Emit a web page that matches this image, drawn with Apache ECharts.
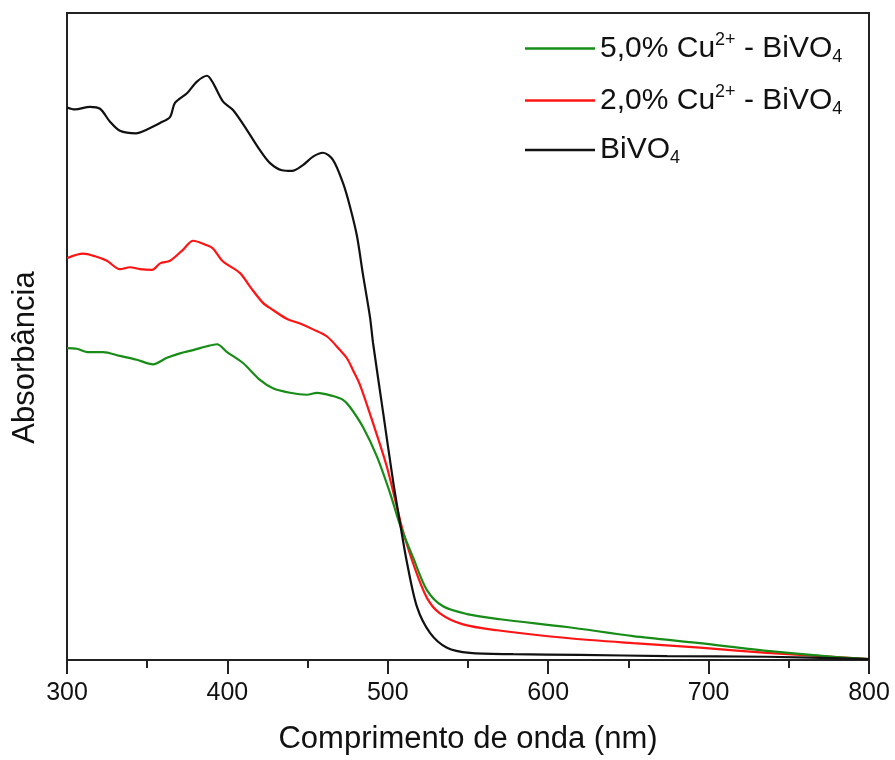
<!DOCTYPE html>
<html>
<head>
<meta charset="utf-8">
<script src="https://cdn.jsdelivr.net/npm/echarts@6/dist/echarts.min.js"></script>
<style>html,body{margin:0;padding:0;background:#fff;}#c{width:895px;height:760px;}</style>
</head>
<body>
<div id="c"></div>
<script>
// x axis ticks
const xTicks = [300, 400, 500, 600, 700, 800];

// BiVO4 (black)
const bivo4Wl  = [300,305,314.3,320.6,326.8,333,343,349.9,358,364.2,367.3,374.8,381,387.3,391,397.3,403.5,412.2,420.3,426.6,434,440.3,447.1,453.4,459.6,465.8,472.1,476.4,480.8,484.5,488.9,490.8,497,503.2,507.6,512,518.2,526.3,536.9,551.2,578.1,619.8,674.1,736.4,800];
const bivo4Abs = [0.854,0.851,0.855,0.852,0.832,0.818,0.814,0.820,0.830,0.839,0.861,0.876,0.894,0.903,0.892,0.863,0.850,0.819,0.788,0.768,0.757,0.756,0.765,0.778,0.784,0.773,0.737,0.701,0.655,0.596,0.530,0.490,0.384,0.278,0.212,0.150,0.082,0.042,0.019,0.011,0.009,0.008,0.006,0.005,0.0015];

// 2,0% Cu2+ - BiVO4 (red)
const cu2Wl  = [300,310,317.5,324.9,333,339.3,345.5,353,358,364.2,372.3,378.6,387.3,391,397.3,407.9,414.1,422.2,428.4,437.2,445.3,453.4,462.1,470.2,474.6,478.3,482.7,490.8,499.5,505.7,508.9,515.7,524.4,532.5,546.9,568.1,611.7,652.9,694.6,736.4,777.6,800];
const cu2Abs = [0.621,0.628,0.624,0.617,0.604,0.607,0.604,0.603,0.613,0.617,0.634,0.648,0.641,0.636,0.616,0.598,0.577,0.552,0.541,0.527,0.520,0.511,0.500,0.479,0.466,0.448,0.425,0.366,0.298,0.236,0.204,0.150,0.096,0.072,0.055,0.046,0.034,0.026,0.019,0.011,0.005,0.0015];

// 5,0% Cu2+ - BiVO4 (green)
const cu5Wl  = [300,306.2,312.5,322.4,333,343.6,353.6,362.3,370.4,378.6,387.3,393.5,399.8,409.7,420.3,428.4,439,449.6,455.9,465.8,472.1,476.4,484.5,493.3,501.4,507.6,515.7,524.4,534.4,549.4,570,611.7,652.9,694.6,736.4,777.6,800];
const cu5Abs = [0.482,0.481,0.476,0.476,0.470,0.464,0.457,0.467,0.474,0.479,0.485,0.488,0.476,0.459,0.433,0.420,0.413,0.410,0.413,0.408,0.402,0.391,0.360,0.314,0.258,0.209,0.159,0.108,0.083,0.071,0.063,0.051,0.037,0.026,0.014,0.005,0.0015];

const seriesNames = ['5,0% Cu2+ - BiVO4', '2,0% Cu2+ - BiVO4', 'BiVO4'];
const legendLabels = {
  '5,0% Cu2+ - BiVO4': '5,0% Cu{sup|2+} - BiVO{sub|4}',
  '2,0% Cu2+ - BiVO4': '2,0% Cu{sup|2+} - BiVO{sub|4}',
  'BiVO4': 'BiVO{sub|4}'
};

function pairs(xs, ys) { return xs.map((x, i) => [x, ys[i]]); }

const FONT = '"Liberation Sans", Arial, Helvetica, sans-serif';
const chart = echarts.init(document.getElementById('c'), null, {renderer: 'canvas'});
chart.setOption({
  animation: false,
  backgroundColor: '#fff',
  textStyle: {fontFamily: FONT, color: '#111'},
  grid: {left: 67, right: 26, top: 13, bottom: 100, show: true, borderColor: '#222', borderWidth: 2, backgroundColor: 'transparent'},
  legend: {
    orient: 'vertical',
    left: 520, top: 26,
    icon: 'rect',
    itemWidth: 70, itemHeight: 2.5, itemGap: 17,
    data: seriesNames,
    formatter: n => legendLabels[n],
    textStyle: {
      fontSize: 30, color: '#111', fontFamily: FONT,
      rich: {
        sup: {fontSize: 18, verticalAlign: 'top', padding: [0, 0, 15, 0], fontFamily: FONT, color: '#111'},
        sub: {fontSize: 18, verticalAlign: 'bottom', padding: [17, 0, 0, 0], fontFamily: FONT, color: '#111'}
      }
    }
  },
  xAxis: {
    type: 'value', min: 300, max: 800, interval: 100,
    name: 'Comprimento de onda (nm)', nameLocation: 'middle', nameGap: 64,
    nameTextStyle: {fontSize: 31, color: '#111', fontFamily: FONT},
    axisLine: {show: true, onZero: false, lineStyle: {color: '#222', width: 2}},
    axisTick: {show: true, inside: false, length: 14, lineStyle: {color: '#222', width: 2}},
    minorTick: {show: true, splitNumber: 2, length: 8, lineStyle: {color: '#222', width: 2}},
    axisLabel: {fontSize: 25, color: '#111', margin: 21, fontFamily: FONT,
      formatter: v => xTicks.includes(v) ? String(v) : ''},
    splitLine: {show: false}
  },
  yAxis: {
    type: 'value', min: 0, max: 1,
    name: 'Absorbância', nameLocation: 'middle', nameGap: 26,
    nameTextStyle: {fontSize: 31, color: '#111', fontFamily: FONT, padding: [0, 42, 0, 0]},
    axisLine: {show: true, lineStyle: {color: '#222', width: 2}},
    axisTick: {show: false}, axisLabel: {show: false}, splitLine: {show: false}
  },
  series: [
    {name: seriesNames[0], type: 'line', data: pairs(cu5Wl, cu5Abs), showSymbol: false, symbol: 'none', smooth: 0.3, lineStyle: {color: '#178c17', width: 2.2}, itemStyle: {color: '#178c17'}, z: 3},
    {name: seriesNames[1], type: 'line', data: pairs(cu2Wl, cu2Abs), showSymbol: false, symbol: 'none', smooth: 0.3, lineStyle: {color: '#ff1414', width: 2.2}, itemStyle: {color: '#ff1414'}, z: 2},
    {name: seriesNames[2], type: 'line', data: pairs(bivo4Wl, bivo4Abs), showSymbol: false, symbol: 'none', smooth: 0.3, lineStyle: {color: '#111', width: 2.2}, itemStyle: {color: '#111'}, z: 4}
  ]
});
</script>
</body>
</html>
